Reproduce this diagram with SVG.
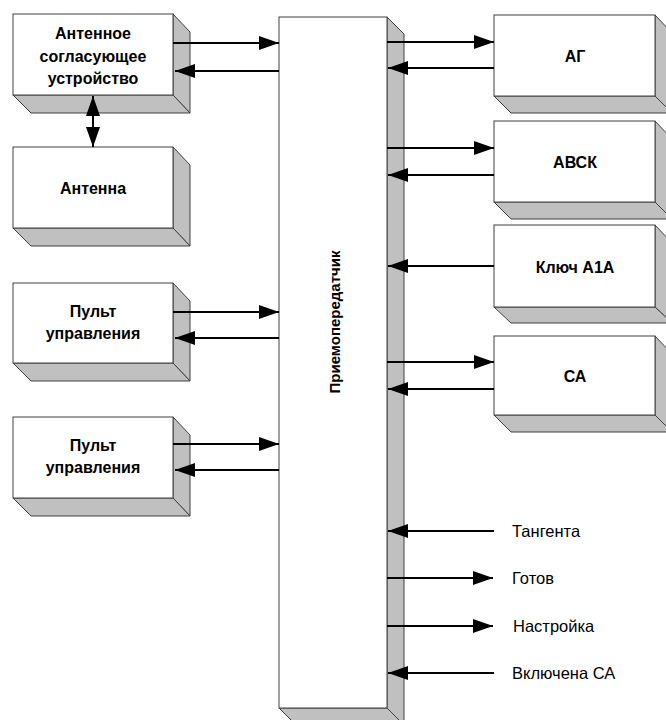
<svg xmlns="http://www.w3.org/2000/svg" width="666" height="720" viewBox="0 0 666 720">
<defs>
<marker id="ah" viewBox="0 0 20 14" refX="20" refY="7" markerWidth="20" markerHeight="14" markerUnits="userSpaceOnUse" orient="auto-start-reverse">
<path d="M0,0 L20,7 L0,14 Z" fill="#000"/>
</marker>
</defs>
<style>
.f{fill:#fff;stroke:#404040;stroke-width:1}
.s{fill:#c0c0c0;stroke:#404040;stroke-width:1}
.b{font-family:"Liberation Sans",Arial,sans-serif;font-weight:bold;font-size:16px;fill:#000;text-anchor:middle}
.t{font-family:"Liberation Sans",Arial,sans-serif;font-size:16.5px;fill:#000}
.c line{stroke:#000;stroke-width:2;marker-end:url(#ah)}
</style>
<rect width="666" height="720" fill="#fff"/>

<g id="asu">
<polygon class="s" points="173,14 190,32 190,113 173,95"/>
<polygon class="s" points="13,95 173,95 190,113 31,113"/>
<rect class="f" x="13" y="14" width="160" height="81"/>
<text class="b" x="93" y="39">Антенное</text>
<text class="b" x="93" y="62">согласующее</text>
<text class="b" x="93" y="84">устройство</text>
</g>

<g id="antenna">
<polygon class="s" points="173,147 190,165 190,246 173,228"/>
<polygon class="s" points="13,228 173,228 190,246 31,246"/>
<rect class="f" x="13" y="147" width="160" height="81"/>
<text class="b" x="93" y="194">Антенна</text>
</g>

<g id="pult1">
<polygon class="s" points="173,283 190,301 190,381 173,363"/>
<polygon class="s" points="13,363 173,363 190,381 31,381"/>
<rect class="f" x="13" y="283" width="160" height="80"/>
<text class="b" x="93" y="317">Пульт</text>
<text class="b" x="93" y="339">управления</text>
</g>

<g id="pult2">
<polygon class="s" points="173,417 190,435 190,516 173,498"/>
<polygon class="s" points="13,498 173,498 190,516 31,516"/>
<rect class="f" x="13" y="417" width="160" height="81"/>
<text class="b" x="93" y="451">Пульт</text>
<text class="b" x="93" y="473">управления</text>
</g>

<g id="trx">
<polygon class="s" points="387,17 404,34 404,725 387,708"/>
<polygon class="s" points="279,708 387,708 404,725 296,725"/>
<rect class="f" x="279" y="17" width="108" height="691"/>
<text class="b" style="font-size:15px" transform="translate(340,322) rotate(-90)">Приемопередатчик</text>
</g>

<g id="ag">
<polygon class="s" points="655,15 672,33 672,113 655,96"/>
<polygon class="s" points="494,96 655,96 672,113 511,113"/>
<rect class="f" x="494" y="15" width="161" height="81"/>
<text class="b" x="575" y="62">АГ</text>
</g>

<g id="avsk">
<polygon class="s" points="655,121 672,139 672,219 655,202"/>
<polygon class="s" points="494,202 655,202 672,219 511,219"/>
<rect class="f" x="494" y="121" width="161" height="81"/>
<text class="b" x="575" y="168">АВСК</text>
</g>

<g id="key">
<polygon class="s" points="655,225 672,243 672,323 655,307"/>
<polygon class="s" points="494,307 655,307 672,323 511,323"/>
<rect class="f" x="494" y="225" width="161" height="82"/>
<text class="b" x="575" y="273">Ключ А1А</text>
</g>

<g id="sa">
<polygon class="s" points="655,336 672,354 672,432 655,415"/>
<polygon class="s" points="494,415 655,415 672,432 511,432"/>
<rect class="f" x="494" y="336" width="161" height="79"/>
<text class="b" x="575" y="382">СА</text>
</g>

<g id="signals">
<text class="t" x="512" y="537">Тангента</text>
<text class="t" x="512" y="584">Готов</text>
<text class="t" x="513" y="632">Настройка</text>
<text class="t" x="512" y="679">Включена СА</text>
</g>

<g id="connectors" class="c">
<line x1="173" y1="43" x2="279" y2="43"/>
<line x1="279" y1="71" x2="175" y2="71"/>
<line x1="93" y1="147" x2="93" y2="96" style="marker-start:url(#ah)"/>
<line x1="173" y1="312" x2="279" y2="312"/>
<line x1="279" y1="338" x2="175" y2="338"/>
<line x1="173" y1="444" x2="279" y2="444"/>
<line x1="279" y1="470" x2="175" y2="470"/>
<line x1="387" y1="42" x2="494" y2="42"/>
<line x1="494" y1="68" x2="388" y2="68"/>
<line x1="387" y1="148" x2="494" y2="148"/>
<line x1="494" y1="175" x2="388" y2="175"/>
<line x1="494" y1="266" x2="388" y2="266"/>
<line x1="387" y1="362" x2="494" y2="362"/>
<line x1="494" y1="389" x2="388" y2="389"/>
<line x1="494" y1="531" x2="388" y2="531"/>
<line x1="387" y1="578" x2="493" y2="578"/>
<line x1="387" y1="626" x2="493" y2="626"/>
<line x1="494" y1="673" x2="388" y2="673"/>
</g>
</svg>
